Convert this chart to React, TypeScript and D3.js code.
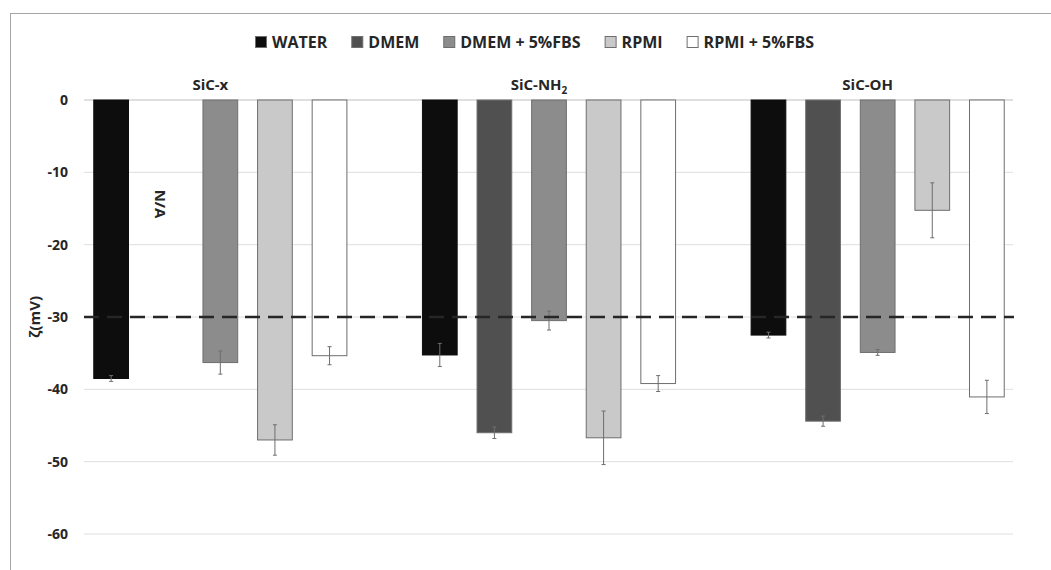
import React from 'react';
import * as d3 from 'd3';

const width = 1051;
const height = 570;
const margin = { top: 100, right: 38, bottom: 36, left: 84 };

const groups = ['SiC-x', 'SiC-NH2', 'SiC-OH'];
const series = ['WATER', 'DMEM', 'DMEM + 5%FBS', 'RPMI', 'RPMI + 5%FBS'];
const colors = ['#0d0d0d', '#505050', '#8c8c8c', '#c9c9c9', '#ffffff'];

// zeta potential (mV), null = not available
const sicX = [-38.5, null, -36.3, -47.0, -35.35];
const sicNH2 = [-35.25, -46.0, -30.5, -46.7, -39.2];
const sicOH = [-32.5, -44.4, -34.9, -15.25, -41.05];
const errX = [0.4, null, 1.6, 2.1, 1.25];
const errNH2 = [1.6, 0.8, 1.3, 3.7, 1.1];
const errOH = [0.4, 0.7, 0.4, 3.8, 2.3];

const yTicks = [0, -10, -20, -30, -40, -50, -60];
const threshold = -30;

const values = [sicX, sicNH2, sicOH];
const errors = [errX, errNH2, errOH];

const font = "'Open Sans', 'DejaVu Sans', sans-serif";

const measure = (() => {
  const ctx = document.createElement('canvas').getContext('2d');
  return (text: string, size: number) => {
    if (!ctx) return text.length * size * 0.6;
    ctx.font = `bold ${size}px ${font}`;
    return ctx.measureText(text).width;
  };
})();

export default function App() {
  const y = d3.scaleLinear().domain([-60, 0]).range([534, margin.top]);

  // outer band reaches beyond the gridlines, as in the source chart
  const x = d3.scaleBand().domain(groups).range([56, 1042]).padding(0);
  const xInner = d3
    .scaleBand()
    .domain(series)
    .range([-136.5, 136.5])
    .paddingInner(0.364)
    .paddingOuter(0.182);

  const gridX0 = margin.left;
  const gridX1 = width - margin.right;

  // legend layout
  let lx = 255;
  const legend = series.map((s, i) => {
    const item = { s, i, x: lx };
    lx += 12 + 5 + measure(s, 16) + 24;
    return item;
  });

  const naX = (x('SiC-x') as number) + x.bandwidth() / 2 + (xInner('DMEM') as number) + xInner.bandwidth() / 2 - 5;

  return (
    <svg
      width={width}
      height={height}
      style={{ position: 'absolute', left: 0, top: 0, background: '#fff' }}
      fontFamily={font}
    >
      <rect x={10.5} y={13.5} width={1100} height={700} fill="#fff" stroke="#a6a6a6" />

      {yTicks.map(t => (
        <g key={t}>
          <line
            x1={gridX0}
            x2={gridX1}
            y1={y(t)}
            y2={y(t)}
            stroke={t === 0 ? '#bfbfbf' : '#dedede'}
            strokeWidth={1}
          />
          <text
            x={68}
            y={y(t)}
            dy="0.35em"
            textAnchor="end"
            fontSize={14}
            fontWeight="bold"
            fill="#262626"
          >
            {t}
          </text>
        </g>
      ))}

      <text
        transform={`translate(40, ${y(-30)}) rotate(-90)`}
        textAnchor="middle"
        fontSize={15}
        fontWeight="bold"
        fill="#262626"
      >
        ζ(mV)
      </text>

      {groups.map((g, gi) => {
        const cx = (x(g) as number) + x.bandwidth() / 2;
        return (
          <g key={g}>
            {series.map((s, si) => {
              const v = values[gi][si];
              if (v === null) return null;
              const bx = cx + (xInner(s) as number);
              const bw = xInner.bandwidth();
              const e = errors[gi][si] as number;
              const mx = bx + bw / 2;
              return (
                <g key={s}>
                  <rect
                    x={bx}
                    y={y(0)}
                    width={bw}
                    height={y(v) - y(0)}
                    fill={colors[si]}
                    stroke={si === 0 ? '#0d0d0d' : '#6e6e6e'}
                    strokeWidth={1}
                  />
                  <line x1={mx} x2={mx} y1={y(v + e)} y2={y(v - e)} stroke="#6e6e6e" strokeWidth={1} />
                  <line x1={mx - 2} x2={mx + 2} y1={y(v + e)} y2={y(v + e)} stroke="#6e6e6e" strokeWidth={1} />
                  <line x1={mx - 2} x2={mx + 2} y1={y(v - e)} y2={y(v - e)} stroke="#6e6e6e" strokeWidth={1} />
                </g>
              );
            })}
            <text
              x={cx - 10}
              y={90}
              textAnchor="middle"
              fontSize={15}
              fontWeight="bold"
              fill="#262626"
            >
              {g === 'SiC-NH2' ? (
                <>
                  SiC-NH<tspan fontSize={10} dy={4}>2</tspan>
                </>
              ) : (
                g
              )}
            </text>
          </g>
        );
      })}

      {/* N/A marker for the missing DMEM bar */}
      <text
        transform={`translate(${naX}, 204) rotate(90)`}
        textAnchor="middle"
        dy="0.35em"
        fontSize={15}
        fontWeight="bold"
        fill="#262626"
      >
        N/A
      </text>

      <line
        x1={gridX0}
        x2={gridX1 + 1}
        y1={y(threshold)}
        y2={y(threshold)}
        stroke="#262626"
        strokeWidth={2.5}
        strokeDasharray="15,8"
      />

      {legend.map(d => (
        <g key={d.s}>
          <rect x={d.x + 0.5} y={36.5} width={11} height={11} fill={colors[d.i]} stroke="#6e6e6e" />
          <text x={d.x + 17} y={42} dy="0.35em" fontSize={16} fontWeight="bold" fill="#262626">
            {d.s}
          </text>
        </g>
      ))}
    </svg>
  );
}
